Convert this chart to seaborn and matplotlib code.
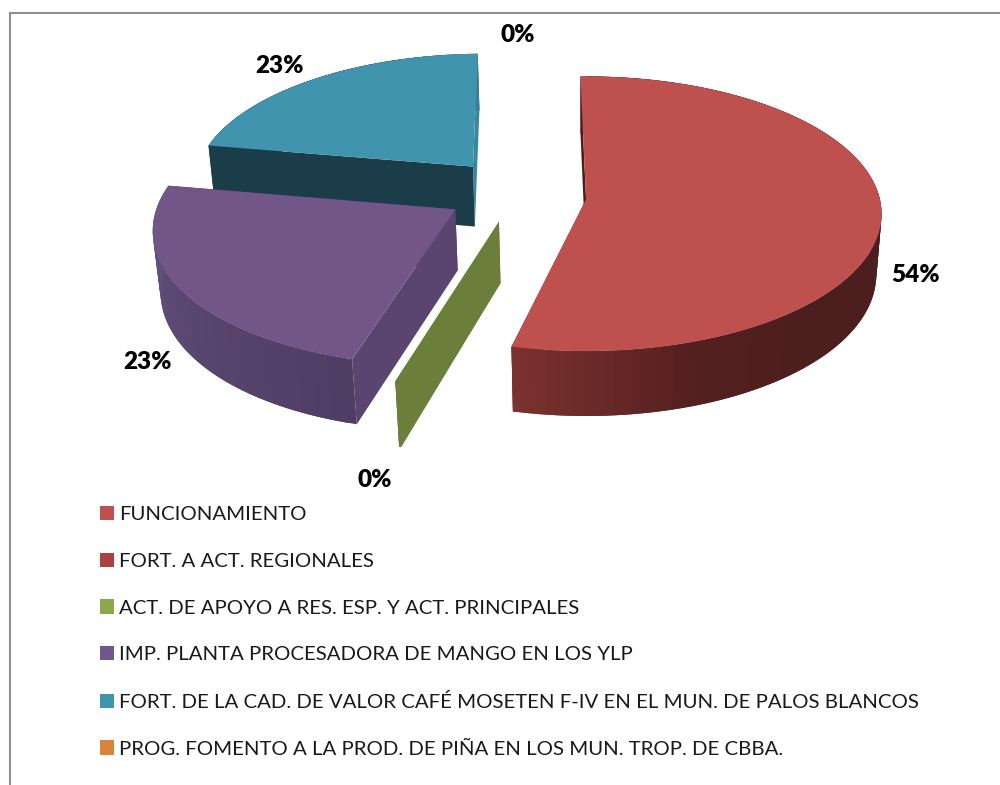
import numpy as np
import matplotlib
matplotlib.use("Agg")
import matplotlib.pyplot as plt
import seaborn as sns
from matplotlib.collections import PolyCollection
from matplotlib.patches import Patch
from matplotlib.transforms import Transform

# data
categories = [
    "FUNCIONAMIENTO",
    "FORT. A ACT. REGIONALES",
    "ACT. DE APOYO A RES. ESP. Y ACT. PRINCIPALES",
    "IMP. PLANTA PROCESADORA DE MANGO EN LOS YLP",
    "FORT. DE LA CAD. DE VALOR CAFÉ MOSETEN F-IV EN EL MUN. DE PALOS BLANCOS",
    "PROG. FOMENTO A LA PROD. DE PIÑA EN LOS MUN. TROP. DE CBBA.",
]
# shares as they look in the drawing, printed labels differ a little
shares = [54.0, 0.5, 0.1, 23.5, 21.9, 0.0]
value_labels = ["54%", None, "0%", "23%", "23%", "0%"]
no_mark = [1, 5]  # these two round to nothing in the chart
legend_colors = ["#BE504E", "#A84140", "#8BA84D", "#72578F", "#4095AD", "#DB8338"]
top_colors = ["#BE504E", "#A84140", "#6B7F3B", "#725688", "#4094AE", "#DB8338"]

# small per slice corrections, the original perspective is not a clean circle
slice_radius = [1, 1, 1.05, 1.01, 0.96, 1]
slice_lift = [-0.01, 0, 0.035, 0.02, 0.03, 0]
slice_side = [0, 0, 0.01, 0, 0, 0]

# radial wall colours, [wall at slice start, wall at slice end]
radial_colors = {
    0: ["#4C1F1E", "#7C3230"],
    2: ["#6B7F3B", "#6B7F3B"],
    3: ["#5A4570", "#4A3860"],
    4: ["#1B3C49", "#3A889F"],
}
# outer wall shading: clockwise angle from top -> colour
arc_stops = {
    0: ([0, 140, 160, 194], ["#4C1F1E", "#4C1F1E", "#541F1F", "#7C3230"]),
    2: ([0, 360], ["#6B7F3B", "#6B7F3B"]),
    3: ([190, 280], ["#4E3B62", "#66527F"]),
    4: ([270, 340, 360], ["#1B3C49", "#1B3C49", "#3A889F"]),
}

# camera for the tilted pie, fitted by eye
CX, CY = 585, 200
SCALE_X, SCALE_Y, PINCH, DEPTH_PINCH, DEPTH = 294, 136, 0.105, 0.018, 62


def project(x, y, d=0.0):
    w = 1 + PINCH * y + DEPTH_PINCH * d
    return CX + SCALE_X * x / w, CY + (-SCALE_Y * y + DEPTH * d) / w


class PiePlane(Transform):
    input_dims = 2
    output_dims = 2
    is_separable = False
    has_inverse = False

    def transform_non_affine(self, values):
        sx, sy = project(values[:, 0], values[:, 1])
        return np.column_stack([sx, sy])


def rim(w, theta):
    # theta clockwise from top, w is the wedge the pie returned
    return w.center[0] + w.r * np.sin(np.radians(theta)), w.center[1] + w.r * np.cos(np.radians(theta))


def wall(x0, y0, x1, y1):
    sx, sy = project(np.array([x0, x1, x1, x0]), np.array([y0, y1, y1, y0]), np.array([0, 0, 1, 1.0]))
    return np.column_stack([sx, sy])


sns.set_theme(style="white")
plt.rcParams["font.family"] = ["Lato", "DejaVu Sans"]

fig = plt.figure(figsize=(10, 7.85), dpi=100, facecolor="white")
ax = fig.add_axes([0, 0, 1, 1])

wedges, _ = ax.pie(
    shares,
    colors=sns.color_palette(top_colors),
    explode=[0.24] * len(shares),
    center=(-0.235, 0.04),
    radius=1,
    startangle=91.2,
    counterclock=False,
    wedgeprops={"linewidth": 0},
)
ax.set_xlim(0, 1000)
ax.set_ylim(785, 0)
ax.set_aspect("auto")
ax.axis("off")

plane = PiePlane() + ax.transData

# back slices first so the near ones cover them
draw_order = [5, 4, 3, 2, 1, 0]
for z, i in enumerate(draw_order):
    w = wedges[i]
    w.set_radius(slice_radius[i])
    w.set_center((w.center[0] + slice_side[i], w.center[1] + slice_lift[i]))
    w.set_transform(plane)
    w.set_zorder(2 * z + 3)
    if i in no_mark:
        w.set_visible(False)
        continue

    t_start, t_end = 90 - w.theta2, 90 - w.theta1  # clockwise from top
    polys, faces = [], []

    cx, cy = w.center
    # hidden end wall goes first, the start wall is the one in view
    for t, col in zip([t_end, t_start], radial_colors[i][::-1]):
        polys.append(wall(cx, cy, *rim(w, t)))
        faces.append(matplotlib.colors.to_rgb(col))

    stops, cols = arc_stops[i]
    rgb = np.array([matplotlib.colors.to_rgb(c) for c in cols])
    steps = np.linspace(t_start, t_end, max(int((t_end - t_start) / 1.5), 3))
    for k in range(len(steps) - 1):
        # each strip runs under the next one, no seams that way
        far = steps[min(k + 2, len(steps) - 1)]
        ax_, ay_ = rim(w, steps[k])
        bx_, by_ = rim(w, far)
        polys.append(wall(ax_, ay_, bx_, by_))
        m = (steps[k] + steps[k + 1]) / 2
        faces.append([np.interp(m, stops, rgb[:, c]) for c in range(3)])

    ax.add_collection(PolyCollection(polys, facecolors=faces, edgecolors="none", linewidths=0, zorder=2 * z + 2))

# value labels, only the ones the chart shows
label_spots = {0: (916, 275), 2: (375, 480), 3: (147, 362), 4: (280, 66), 5: (518, 35)}
for i, (lx, ly) in label_spots.items():
    ax.text(lx, ly, value_labels[i], ha="center", va="center", fontsize=17.5, fontweight=800, color="black", zorder=30)

handles = [Patch(facecolor=c, edgecolor="none") for c in legend_colors]
ax.legend(
    handles,
    categories,
    loc="upper left",
    bbox_to_anchor=(100, 506),
    bbox_transform=ax.transData,
    frameon=False,
    fontsize=14.63,
    handlelength=0.69,
    handleheight=0.69,
    handletextpad=0.25,
    labelspacing=1.455,
    borderpad=0,
    borderaxespad=0,
    labelcolor="#1A1A1A",
)

# chart border, top and left only reach the picture edge
ax.plot([10, 10, 1000], [785, 12.5, 12.5], color="#8E8E8E", lw=1.5, zorder=1, solid_joinstyle="miter")

plt.savefig("out.png", dpi=100)
plt.close()
